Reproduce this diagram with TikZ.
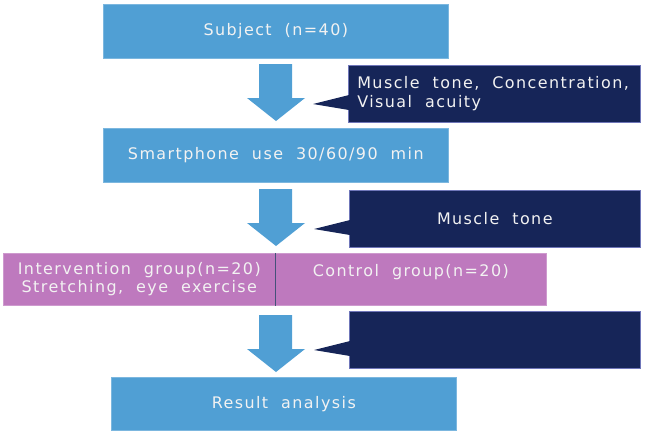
\documentclass[tikz,border=0pt]{standalone}
\usepackage{fontspec}
\setmainfont[LetterSpace=9,WordSpace=2]{DejaVu Sans}
\usetikzlibrary{positioning,calc}
\definecolor{boxblue}{RGB}{80,159,212}
\definecolor{boxnavy}{RGB}{22,37,88}
\definecolor{boxpink}{RGB}{190,121,190}

\begin{document}
\begin{tikzpicture}[
  x=1bp, y=-1bp,
  every node/.style={font=\fontsize{16}{18.5}\selectfont, text=white!95!black, inner sep=0pt},
  stage/.style={draw=boxblue!75!white, fill=boxblue, line width=0.6bp,
    anchor=north west, minimum width=345bp, minimum height=54bp, align=center},
  group/.style={draw=boxpink!75!white, fill=boxpink, line width=0.6bp,
    anchor=north west, minimum height=52bp, align=center},
  note/.style={draw=boxnavy!70!blue!60!white, fill=boxnavy, line width=0.6bp,
    anchor=north west, minimum width=291bp, minimum height=57bp}
]
\useasboundingbox (0,0) rectangle (648,432);

% main stages
\node[stage] (subj) at (103,4) {Subject (n=40)};
\node[stage] (phone) at (103,128) {Smartphone use 30/60/90 min};
\node[group, minimum width=272bp] (interv) at (3,253)
  {Intervention group(n=20)\\Stretching, eye exercise};
\node[group, minimum width=271bp] (ctrl) at (275,253) {Control group(n=20)\\~};
\node[stage, minimum height=53bp] (result) at (111,377) {Result analysis};
\draw[boxnavy!80, line width=0.8bp] (interv.north east) -- (interv.south east);

% measurements
\node[note, text width=274bp, inner xsep=9bp, align=flush left] (m1) at (348,65)
  {Muscle tone, Concentration,\\Visual acuity};
\node[note, align=center] (m2) at (349,190) {Muscle tone};
\node[note] (m3) at (349,311) {};
\foreach \m in {m1,m2,m3} {
  \fill[boxnavy] ($(\m.north west)+(1,30)$) -- ($(\m.north west)+(-35,39)$)
    -- ($(\m.north west)+(1,45)$) -- cycle;
}

% block arrows
\foreach \t in {64,189,315}
  \fill[boxblue] (259,\t) -- (292,\t) -- (292,\t+34) -- (305,\t+34)
    -- (276,\t+57) -- (247,\t+34) -- (259,\t+34) -- cycle;
\end{tikzpicture}
\end{document}
